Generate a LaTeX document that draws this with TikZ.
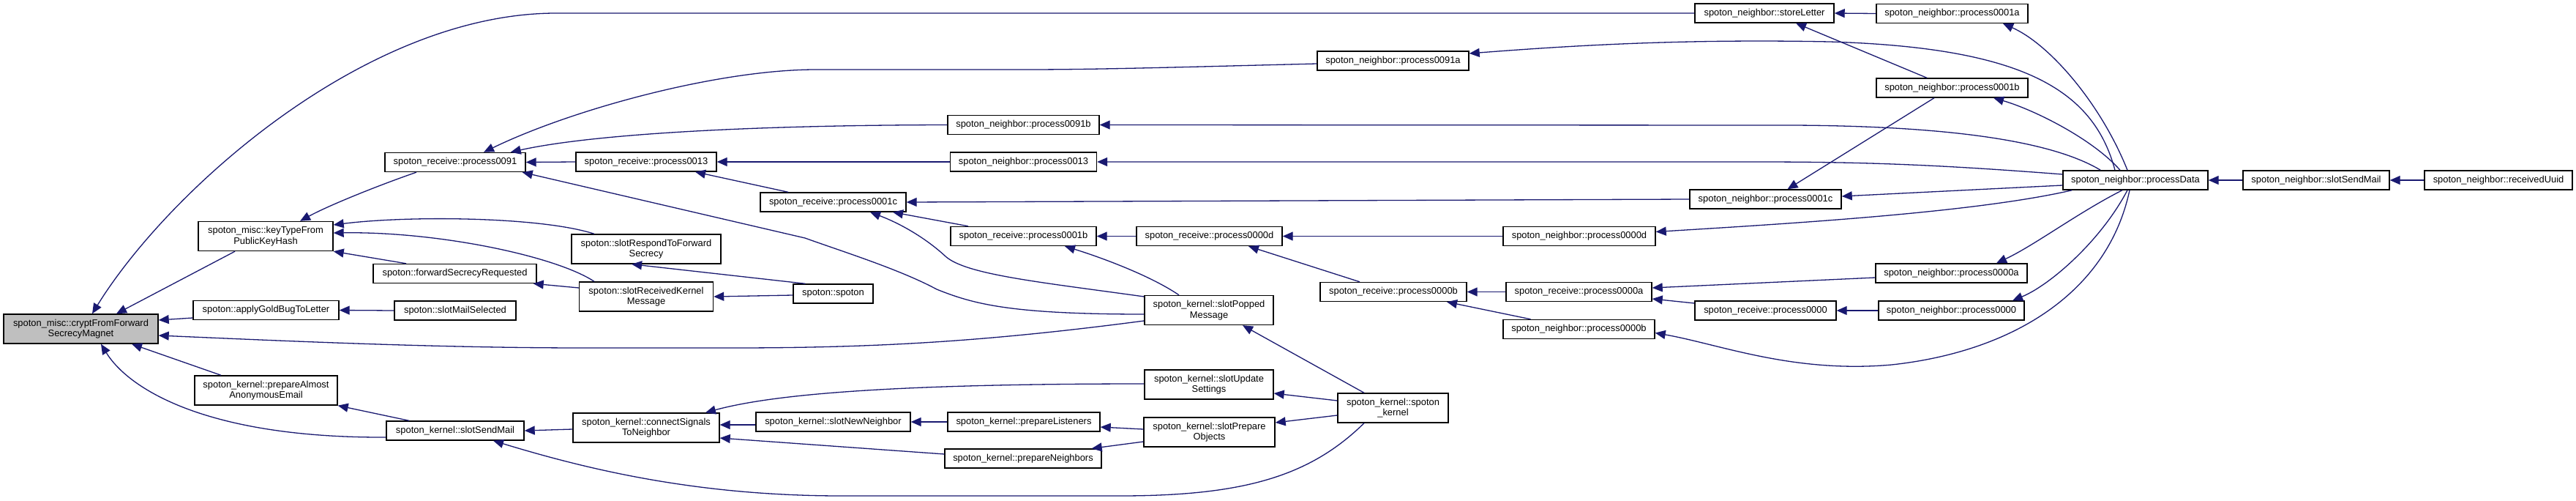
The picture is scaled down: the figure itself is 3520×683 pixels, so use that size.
\documentclass[tikz,border=0pt]{standalone}
\usepackage{fontspec}
\setmainfont{Liberation Sans}
\usetikzlibrary{arrows.meta}
\definecolor{edgeblue}{HTML}{191970}
\definecolor{hlgray}{HTML}{BFBFBF}
\begin{document}
\begin{tikzpicture}[x=1pt,y=-1pt,
  fn/.style={draw=black, line width=1.4pt, fill=white, inner sep=0pt, minimum height=26pt, align=center, font=\fontsize{12.9}{14.5}\selectfont},
  fn2/.style={fn, minimum height=40pt},
  calls/.style={draw=edgeblue, line width=1.3pt, -{Triangle[length=14pt,width=12pt]}}]
\useasboundingbox[fill=white] (0,0) rectangle (3520,683);
% rank 0
\node[fn2, fill=hlgray, minimum width=211pt] (crypt) at (110.5,449) {spoton\_misc::cryptFromForward\\SecrecyMagnet};
% rank 1
\node[fn2, minimum width=184pt] (keyType) at (363,322.5) {spoton\_misc::keyTypeFrom\\PublicKeyHash};
\node[fn, minimum width=199pt] (applyGold) at (363.5,423.5) {spoton::applyGoldBugToLetter};
\node[fn2, minimum width=195pt] (prepAlmost) at (363.5,533) {spoton\_kernel::prepareAlmost\\AnonymousEmail};
% rank 2
\node[fn, minimum width=192pt] (p0091r) at (622,221.5) {spoton\_receive::process0091};
\node[fn, minimum width=223pt] (fwdSecReq) at (621.5,373.5) {spoton::forwardSecrecyRequested};
\node[fn, minimum width=166pt] (mailSel) at (622,424) {spoton::slotMailSelected};
\node[fn, minimum width=188pt] (ksendMail) at (622,588) {spoton\_kernel::slotSendMail};
% rank 3
\node[fn, minimum width=192pt] (p0013r) at (883,221) {spoton\_receive::process0013};
\node[fn2, minimum width=204pt] (respondFS) at (883,340) {spoton::slotRespondToForward\\Secrecy};
\node[fn2, minimum width=183pt] (recvKM) at (883,405) {spoton::slotReceivedKernel\\Message};
\node[fn2, minimum width=200pt] (connSig) at (883,584) {spoton\_kernel::connectSignals\\ToNeighbor};
% rank 4
\node[fn, minimum width=199pt] (p0001cr) at (1138.5,276) {spoton\_receive::process0001c};
\node[fn, minimum width=109pt] (spotonC) at (1138.5,401) {spoton::spoton};
\node[fn, minimum width=211pt] (newNeigh) at (1138.5,576) {spoton\_kernel::slotNewNeighbor};
% rank 5
\node[fn, minimum width=207pt] (p0091bn) at (1398.5,170.5) {spoton\_neighbor::process0091b};
\node[fn, minimum width=200pt] (p0013n) at (1398.5,221) {spoton\_neighbor::process0013};
\node[fn, minimum width=199pt] (p0001br) at (1398.5,322.5) {spoton\_receive::process0001b};
\node[fn, minimum width=208pt] (prepListen) at (1399,576) {spoton\_kernel::prepareListeners};
\node[fn, minimum width=214pt] (prepNeigh) at (1398,626) {spoton\_kernel::prepareNeighbors};
% rank 6
\node[fn, minimum width=199pt] (p000dr) at (1652.5,322.5) {spoton\_receive::process0000d};
\node[fn2, minimum width=176pt] (popped) at (1652,423.5) {spoton\_kernel::slotPopped\\Message};
\node[fn2, minimum width=176pt] (updSet) at (1652,525) {spoton\_kernel::slotUpdate\\Settings};
\node[fn2, minimum width=179pt] (prepObj) at (1652.5,590) {spoton\_kernel::slotPrepare\\Objects};
% rank 7
\node[fn, minimum width=207pt] (p0091an) at (1903.5,83) {spoton\_neighbor::process0091a};
\node[fn, minimum width=200pt] (p000br) at (1904,398.5) {spoton\_receive::process0000b};
\node[fn2, minimum width=151pt] (kernelC) at (1903.5,557) {spoton\_kernel::spoton\\\_kernel};
% rank 8
\node[fn, minimum width=208pt] (p000dn) at (2158,322.5) {spoton\_neighbor::process0000d};
\node[fn, minimum width=199pt] (p000ar) at (2157.5,398.5) {spoton\_receive::process0000a};
\node[fn, minimum width=207pt] (p000bn) at (2157.5,449.5) {spoton\_neighbor::process0000b};
% rank 9
\node[fn, minimum width=190pt] (storeL) at (2411,18) {spoton\_neighbor::storeLetter};
\node[fn, minimum width=207pt] (p0001cn) at (2412.5,272) {spoton\_neighbor::process0001c};
\node[fn, minimum width=193pt] (p0000r) at (2412.5,424) {spoton\_receive::process0000};
% rank 10
\node[fn, minimum width=207pt] (p0001an) at (2667.5,18.5) {spoton\_neighbor::process0001a};
\node[fn, minimum width=207pt] (p0001bn) at (2667.5,120) {spoton\_neighbor::process0001b};
\node[fn, minimum width=207pt] (p000an) at (2666.5,373) {spoton\_neighbor::process0000a};
\node[fn, minimum width=199pt] (p0000n) at (2666.5,424) {spoton\_neighbor::process0000};
% rank 11-13
\node[fn, minimum width=198pt] (procData) at (2918,246) {spoton\_neighbor::processData};
\node[fn, minimum width=200pt] (nsendMail) at (3165,246) {spoton\_neighbor::slotSendMail};
\node[fn, minimum width=202pt] (recvUuid) at (3414,246) {spoton\_neighbor::receivedUuid};

% edges (caller -> callee, arrowhead at callee)
\draw[calls] (storeL.west) -- (760,18) .. controls (500,18) and (230,260) .. ([xshift=15.5pt]crypt.north);
\draw[calls] ([xshift=-42pt]keyType.south) -- ([xshift=48.5pt]crypt.north);
\draw[calls] ([yshift=-10.5pt]applyGold.west) -- ([yshift=12pt]crypt.east);
\draw[calls] ([yshift=-14.5pt]popped.west) .. controls (1350,466) and (1200,475) .. (1000,475) -- (800,475) .. controls (600,475) and (400,466) .. ([yshift=-9pt]crypt.east);
\draw[calls] ([xshift=-61.5pt]prepAlmost.north) -- ([xshift=69.5pt]crypt.south);
\draw[calls] ([yshift=-9pt]ksendMail.west) .. controls (280,598) and (175,530) .. ([xshift=27.5pt]crypt.south);
\draw[calls] ([xshift=-53pt]p0091r.south) .. controls (520,252) and (450,280) .. ([xshift=47pt]keyType.north);
\draw[calls] ([xshift=-71pt]respondFS.north) .. controls (740,296) and (560,294) .. ([yshift=15.5pt]keyType.east);
\draw[calls] ([xshift=-71pt]recvKM.north) .. controls (760,350) and (600,316) .. ([yshift=4.5pt]keyType.east);
\draw[calls] ([xshift=-66.5pt]fwdSecReq.north) -- (keyType.south east);
\draw[calls] ([yshift=12pt]recvKM.west) -- ([xshift=-5pt]fwdSecReq.south east);
\draw[calls] (mailSel.west) -- (applyGold.east);
\draw[calls] ([xshift=-63pt]ksendMail.north) -- (prepAlmost.south east);
\draw[calls] ([yshift=-4pt]p0091an.west) .. controls (1600,92) and (1500,95) .. (1400,95) -- (1115,95) .. controls (980,95) and (780,150) .. ([xshift=39pt]p0091r.north);
\draw[calls] (p0091bn.west) .. controls (1000,171) and (800,185) .. ([xshift=-21pt]p0091r.north east);
\draw[calls] (p0013r.west) -- (p0091r.east);
\draw[calls] ([yshift=-5.5pt]popped.west) .. controls (1380,429) and (1330,415) .. (1280,395) .. controls (1230,368) and (1150,343) .. (1100,325) -- ([xshift=-5pt]p0091r.south east);
\draw[calls] (p0013n.west) -- (p0013r.east);
\draw[calls] ([xshift=-61.5pt]p0001cr.north) -- ([xshift=67pt]p0013r.south);
\draw[calls] (p0001cn.west) -- (p0001cr.east);
\draw[calls] ([xshift=-75.5pt]p0001br.north) -- ([xshift=81.5pt]p0001cr.south);
\draw[calls] ([yshift=18.5pt]popped.west) .. controls (1420,385) and (1320,375) .. (1292,350) .. controls (1265,325) and (1230,305) .. ([xshift=50.5pt]p0001cr.south);
\draw[calls] ([xshift=-38pt]spotonC.north) -- ([xshift=-20pt]respondFS.south);
\draw[calls] ([yshift=-2pt]spotonC.west) -- (recvKM.east);
\draw[calls] ([yshift=-2pt]connSig.west) -- (ksendMail.east);
\draw[calls] ([xshift=-39.5pt]kernelC.south) .. controls (1790,650) and (1700,677) .. (1530,677) -- (1150,677) .. controls (950,677) and (800,640) .. ([xshift=52pt]ksendMail.south);
\draw[calls] ([yshift=1pt]updSet.west) .. controls (1200,524) and (1050,540) .. ([xshift=81pt]connSig.north);
\draw[calls] ([yshift=-4pt]newNeigh.west) -- ([yshift=4pt]connSig.east);
\draw[calls] ([yshift=6pt]prepNeigh.west) -- ([yshift=-14pt]connSig.east);
\draw[calls] (prepListen.west) -- (newNeigh.east);
\draw[calls] ([yshift=4pt]prepObj.west) -- ([yshift=-7pt]prepListen.east);
\draw[calls] ([yshift=-13pt]prepObj.west) -- ([xshift=-14pt]prepNeigh.north east);
\draw[calls] ([yshift=-10pt]kernelC.west) -- ([yshift=13pt]prepObj.east);
\draw[calls] ([yshift=10pt]kernelC.west) -- ([yshift=-12pt]updSet.east);
\draw[calls] ([xshift=-39.5pt]kernelC.north) -- ([xshift=46pt]popped.south);
\draw[calls] ([xshift=-41pt]popped.north) .. controls (1570,375) and (1500,350) .. ([xshift=56.5pt]p0001br.south);
\draw[calls] (p000dr.west) -- (p0001br.east);
\draw[calls] (p000dn.west) -- (p000dr.east);
\draw[calls] ([xshift=-46pt]p000br.north) -- ([xshift=53.5pt]p000dr.south);
\draw[calls] (p000ar.west) -- (p000br.east);
\draw[calls] ([xshift=-66pt]p000bn.north) -- ([xshift=73pt]p000br.south);
\draw[calls] ([yshift=-6pt]p000an.west) -- ([yshift=5.5pt]p000ar.east);
\draw[calls] ([yshift=10pt]p0000r.west) -- ([yshift=-9.5pt]p000ar.east);
\draw[calls] (p0000n.west) -- (p0000r.east);
\draw[calls] (p0001an.west) -- (storeL.east);
\draw[calls] ([xshift=-34.5pt]p0001bn.north) -- ([xshift=43pt]storeL.south);
\draw[calls] ([xshift=-24.5pt]p0001bn.south) -- ([xshift=30pt]p0001cn.north);
\draw[calls] ([xshift=-11pt]procData.north) .. controls (2870,140) and (2800,60) .. ([xshift=69.5pt]p0001an.south);
\draw[calls] ([xshift=-21pt]procData.north) .. controls (2860,190) and (2780,150) .. ([xshift=56.5pt]p0001bn.south);
\draw[calls] ([xshift=-28pt]procData.north) .. controls (2860,120) and (2760,65) .. (2500,57) .. controls (2300,53) and (2150,62) .. ([yshift=10pt]p0091an.east);
\draw[calls] ([xshift=52pt]procData.north west) .. controls (2800,190) and (2650,172) .. (2450,171) -- (p0091bn.east);
\draw[calls] ([yshift=8pt]procData.west) .. controls (2650,225) and (2550,221) .. (2400,221) -- (p0013n.east);
\draw[calls] ([yshift=-7pt]procData.west) -- ([yshift=4pt]p0001cn.east);
\draw[calls] ([xshift=13pt]procData.south west) .. controls (2700,290) and (2450,305) .. ([yshift=6pt]p000dn.east);
\draw[calls] ([xshift=-18pt]procData.south) .. controls (2840,290) and (2780,335) .. ([xshift=61.5pt]p000an.north);
\draw[calls] ([xshift=-11pt]procData.south) .. controls (2870,330) and (2800,390) .. ([xshift=83.5pt]p0000n.north);
\draw[calls] ([xshift=-8pt]procData.south) .. controls (2880,400) and (2750,480) .. (2585,498) .. controls (2450,510) and (2350,470) .. ([yshift=-5pt]p000bn.east);
\draw[calls] (nsendMail.west) -- (procData.east);
\draw[calls] (recvUuid.west) -- (nsendMail.east);
\end{tikzpicture}
\end{document}
